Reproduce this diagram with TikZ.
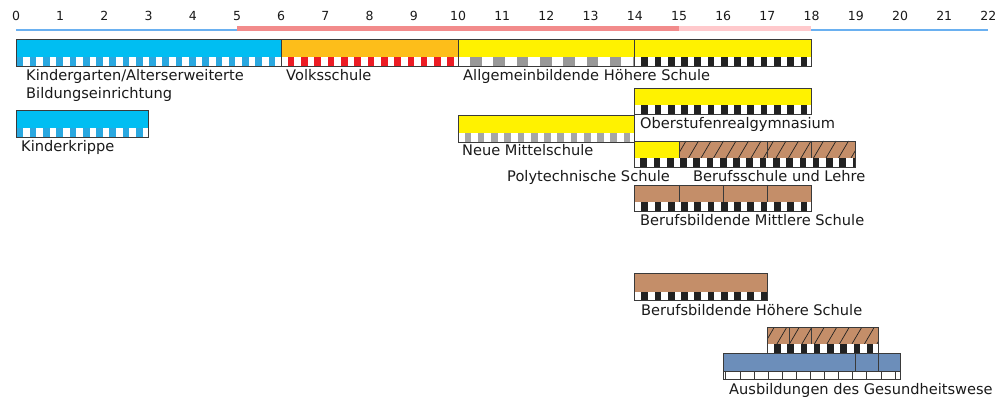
\documentclass[tikz,border=0pt]{standalone}
\usepackage{fontspec}
\setmainfont{DejaVu Sans}
\definecolor{kgblue}{HTML}{00BEF2}
\definecolor{kgsq}{HTML}{2AA8E0}
\definecolor{vsorange}{HTML}{FDBE1A}
\definecolor{vsred}{HTML}{EC1C24}
\definecolor{ylw}{HTML}{FFF200}
\definecolor{gry}{HTML}{999999}
\definecolor{lgry}{HTML}{A6A6A6}
\definecolor{blk}{HTML}{222222}
\definecolor{brn}{HTML}{C48E69}
\definecolor{bgblue}{HTML}{6C8EBA}
\definecolor{bordc}{HTML}{3A3A3A}
\definecolor{axblue}{HTML}{6AB0F0}
\definecolor{axsal}{HTML}{F28B8B}
\definecolor{axpink}{HTML}{FFC9CC}
\definecolor{txt}{HTML}{1A1A1A}
\tikzset{
  bord/.style={draw=bordc, line width=0.8pt},
  divl/.style={draw=bordc, line width=0.8pt},
  hatchl/.style={draw=blk, line width=0.7pt},
  lbl/.style={anchor=base west, inner sep=0pt, font=\fontsize{14.6}{17}\selectfont, text=txt},
  lblr/.style={lbl, anchor=base east},
  num/.style={anchor=center, inner sep=0pt, font=\fontsize{12.5}{14}\selectfont, text=txt},
}
% #1 a0, #2 a1, #3 ytop, #4 ybot, #5 period, #6 offset, #7 colour
\newcommand\sqstrip[7]{%
  \begin{scope}
    \clip ({16+44.2*#1},#3) rectangle ({16+44.2*#2},#4);
    \fill[white] ({16+44.2*#1},#3) rectangle ({16+44.2*#2},#4);
    \foreach \i in {0,...,40} {
      \fill[#7] ({16+44.2*#1+#6+\i*#5},#3) rectangle ++({#5/2},{#4-#3});
    }
  \end{scope}}
% #1 a0, #2 a1, #3 ytop, #4 ybot
\newcommand\hatchfill[4]{%
  \begin{scope}
    \clip ({16+44.2*#1},#3) rectangle ({16+44.2*#2},#4);
    \foreach \i in {0,...,30} {
      \draw[hatchl] ({16+44.2*#1+\i*12.5-3},#4) -- ++(10,{#3-#4});
    }
  \end{scope}}
% #1 a0, #2 a1, #3 ytop, #4 ymid, #5 colour
\newcommand\colpart[5]{%
  \fill[#5] ({16+44.2*#1},#3) rectangle ({16+44.2*#2},#4);}
\newcommand\barframe[4]{%
  \draw[bord] ({16+44.2*#1},#3) rectangle ({16+44.2*#2},#4);}
\newcommand\bardiv[3]{%
  \draw[divl] ({16+44.2*#1},#2) -- ({16+44.2*#1},#3);}
\begin{document}
\begin{tikzpicture}[x=1pt,y=-1pt]
\useasboundingbox (0,0) rectangle (995,403);
\fill[white] (0,0) rectangle (995,403);
% axis
\foreach \k in {0,...,22} {
  \node[num] (n\k) at ({16+44.2*\k},16) {\k};
}
\coordinate (a0) at (16,30);
\coordinate (a5) at (237,30);
\coordinate (a5s) at (237,28.5);
\coordinate (a15s) at (679,28.5);
\coordinate (a18s) at (811,28.5);
\coordinate (a18) at (811,30);
\coordinate (a22) at (988,30);
\draw[axblue, line width=1.5pt] (a0) -- (a5);
\draw[axsal, line width=4.5pt] (a5s) -- (a15s);
\draw[axpink, line width=4.5pt] (a15s) -- (a18s);
\draw[axblue, line width=1.5pt] (a18) -- (a22);

% Kindergarten 0-6
\colpart{0}{6}{39}{57}{kgblue}
\sqstrip{0}{6}{57}{66}{13.26}{0.6}{kgsq}
\barframe{0}{6}{39}{66}
% Volksschule 6-10
\colpart{6}{10}{39}{57}{vsorange}
\sqstrip{6}{10}{57}{66}{13.3}{6.6}{vsred}
\barframe{6}{10}{39}{66}
% AHS lower 10-14
\colpart{10}{14}{39}{57}{ylw}
\sqstrip{10}{14}{57}{66}{23.3}{12}{gry}
\barframe{10}{14}{39}{66}
% AHS upper 14-18
\colpart{14}{18}{39}{57}{ylw}
\sqstrip{14}{18}{57}{66}{13.26}{6.6}{blk}
\barframe{14}{18}{39}{66}
% Kinderkrippe 0-3
\colpart{0}{3}{110}{128}{kgblue}
\sqstrip{0}{3}{128}{137}{13.26}{0.6}{kgsq}
\barframe{0}{3}{110}{137}
% ORG 14-18
\colpart{14}{18}{88}{105}{ylw}
\sqstrip{14}{18}{105}{114}{13.26}{6.6}{blk}
\barframe{14}{18}{88}{114}
% NMS 10-14
\colpart{10}{14}{115}{133}{ylw}
\sqstrip{10}{14}{133}{142}{13.26}{6.6}{lgry}
\barframe{10}{14}{115}{142}
% Poly 14-15 + Berufsschule 15-19
\colpart{14}{15}{141}{158}{ylw}
\colpart{15}{19}{141}{158}{brn}
\hatchfill{15}{19}{141}{158}
\sqstrip{14}{19}{158}{167}{13.26}{5.6}{blk}
\bardiv{15}{141}{158}
\bardiv{17}{141}{158}
\bardiv{18}{141}{158}
\barframe{14}{19}{141}{167}
% BMS 14-18
\colpart{14}{18}{185}{202}{brn}
\sqstrip{14}{18}{202}{211}{13.26}{6.6}{blk}
\bardiv{15}{185}{202}
\bardiv{16}{185}{202}
\bardiv{17}{185}{202}
\barframe{14}{18}{185}{211}
% BHS 14-17
\colpart{14}{17}{273}{292}{brn}
\sqstrip{14}{17}{292}{300}{13.26}{6.6}{blk}
\barframe{14}{17}{273}{300}
% Gesundheit hatched 17-19.5
\colpart{17}{19.5}{327}{344}{brn}
\hatchfill{17}{19.5}{327}{344}
\sqstrip{17}{19.5}{344}{353}{13.26}{6.6}{blk}
\bardiv{17.5}{327}{344}
\bardiv{18}{327}{344}
\barframe{17}{19.5}{327}{353}
% Gesundheit blue 16-20
\colpart{16}{20}{353}{371}{bgblue}
\fill[white] ({16+44.2*16},371) rectangle ({16+44.2*20},379);
\foreach \i in {0,...,12} {
  \draw[divl, line width=0.6pt] ({725.7+\i*14.1},371) -- ({725.7+\i*14.1},379);
}
\draw[divl] ({16+44.2*16},371) -- ({16+44.2*20},371);
\bardiv{19}{353}{371}
\bardiv{19.5}{353}{371}
\barframe{16}{20}{353}{379}

% labels
\node[lbl] (lkg1) at (26,81) {Kindergarten/Alterserweiterte};
\node[lbl] (lkg2) at (26,99) {Bildungseinrichtung};
\node[lbl] (lvs) at (286,81) {Volksschule};
\node[lbl] (lahs) at (463,81) {Allgemeinbildende Höhere Schule};
\node[lbl] (lkk) at (21,152) {Kinderkrippe};
\node[lbl] (lorg) at (640,129) {Oberstufenrealgymnasium};
\node[lbl] (lnms) at (462,156) {Neue Mittelschule};
\node[lblr] (lpoly) at (670,182) {Polytechnische Schule};
\node[lbl] (lbs) at (693,182) {Berufsschule und Lehre};
\node[lbl] (lbms) at (640,226) {Berufsbildende Mittlere Schule};
\node[lbl] (lbhs) at (641,315) {Berufsbildende Höhere Schule};
\node[lbl] (lgh) at (729,394) {Ausbildungen des Gesundheitswese};
\end{tikzpicture}
\end{document}
